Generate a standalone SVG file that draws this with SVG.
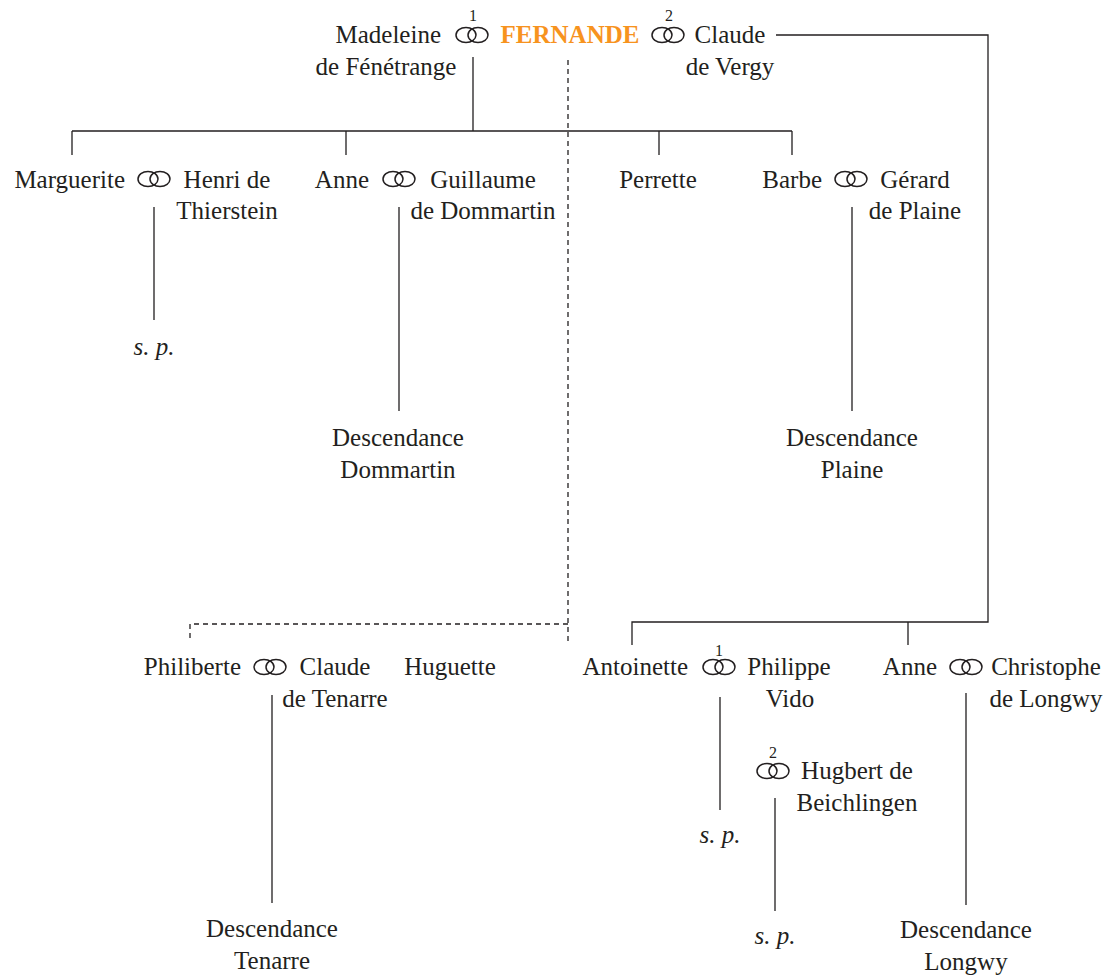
<svg xmlns="http://www.w3.org/2000/svg" width="1109" height="978" viewBox="0 0 1109 978">
<defs>
<style>
text{font-family:"Liberation Serif","DejaVu Serif",serif;font-size:25px;fill:#231f20}
.m{text-anchor:middle}
.e{text-anchor:end}
.it{font-style:italic}
.sup{font-size:16px;text-anchor:middle}
.main{font-weight:bold;fill:#f7931e}
.ln{stroke:#231f20;stroke-width:1.3;fill:none}
.dash{stroke:#231f20;stroke-width:1.3;fill:none;stroke-dasharray:5,4}
.ring{stroke:#231f20;stroke-width:1.5;fill:none}
</style>
<g id="rings"><ellipse class="ring" cx="-6" cy="0" rx="10" ry="7.5"/><ellipse class="ring" cx="6" cy="0" rx="10" ry="7.5"/></g>
</defs>
<rect width="1109" height="978" fill="#fff"/>
<g id="connectors">
<path class="ln" d="M473,57V131M72,131H792M72,131V155M346,131V155M659,131V155M792,131V155"/>
<path class="ln" d="M776,35H988V622H632V645M908,622V645"/>
<path class="dash" d="M568,60V645M568,624H190V640"/>
<path class="ln" d="M154,207V320M399,207V411M852,207V411M272,695V903M720,697V810M775,798V911M966,693V905"/>
</g>
<g id="n-fernande">
<text x="441" y="43" class="e">Madeleine</text>
<text x="386" y="75" class="m">de Fénétrange</text>
<use href="#rings" x="472" y="35"/>
<text x="473" y="21" class="sup">1</text>
<text x="570" y="43" class="m main">FERNANDE</text>
<use href="#rings" x="668" y="35"/>
<text x="669" y="21" class="sup">2</text>
<text x="730" y="43" class="m">Claude</text>
<text x="730" y="75" class="m">de Vergy</text>
</g>
<g id="n-marguerite">
<text x="125" y="188" class="e">Marguerite</text>
<use href="#rings" x="154" y="179"/>
<text x="227" y="188" class="m">Henri de</text>
<text x="227" y="219" class="m">Thierstein</text>
<text x="154" y="355" class="m it">s. p.</text>
</g>
<g id="n-anne1">
<text x="369" y="188" class="e">Anne</text>
<use href="#rings" x="399" y="179"/>
<text x="483" y="188" class="m">Guillaume</text>
<text x="483" y="219" class="m">de Dommartin</text>
<text x="398" y="446" class="m">Descendance</text>
<text x="398" y="478" class="m">Dommartin</text>
</g>
<g id="n-perrette">
<text x="658" y="188" class="m">Perrette</text>
</g>
<g id="n-barbe">
<text x="822" y="188" class="e">Barbe</text>
<use href="#rings" x="851" y="179"/>
<text x="915" y="188" class="m">Gérard</text>
<text x="915" y="219" class="m">de Plaine</text>
<text x="852" y="446" class="m">Descendance</text>
<text x="852" y="478" class="m">Plaine</text>
</g>
<g id="n-philiberte">
<text x="241" y="675" class="e">Philiberte</text>
<use href="#rings" x="270" y="667"/>
<text x="335" y="675" class="m">Claude</text>
<text x="335" y="707" class="m">de Tenarre</text>
<text x="272" y="937" class="m">Descendance</text>
<text x="272" y="969" class="m">Tenarre</text>
</g>
<g id="n-huguette">
<text x="450" y="675" class="m">Huguette</text>
</g>
<g id="n-antoinette">
<text x="688" y="675" class="e">Antoinette</text>
<use href="#rings" x="719" y="667"/>
<text x="719" y="656" class="sup">1</text>
<text x="789" y="675" class="m">Philippe</text>
<text x="790" y="707" class="m">Vido</text>
<text x="720" y="843" class="m it">s. p.</text>
<use href="#rings" x="773" y="771"/>
<text x="773" y="758" class="sup">2</text>
<text x="857" y="779" class="m">Hugbert de</text>
<text x="857" y="811" class="m">Beichlingen</text>
<text x="775" y="944" class="m it">s. p.</text>
</g>
<g id="n-anne2">
<text x="937" y="675" class="e">Anne</text>
<use href="#rings" x="966" y="667"/>
<text x="1046" y="675" class="m">Christophe</text>
<text x="1046" y="707" class="m">de Longwy</text>
<text x="966" y="938" class="m">Descendance</text>
<text x="966" y="970" class="m">Longwy</text>
</g>
</svg>
